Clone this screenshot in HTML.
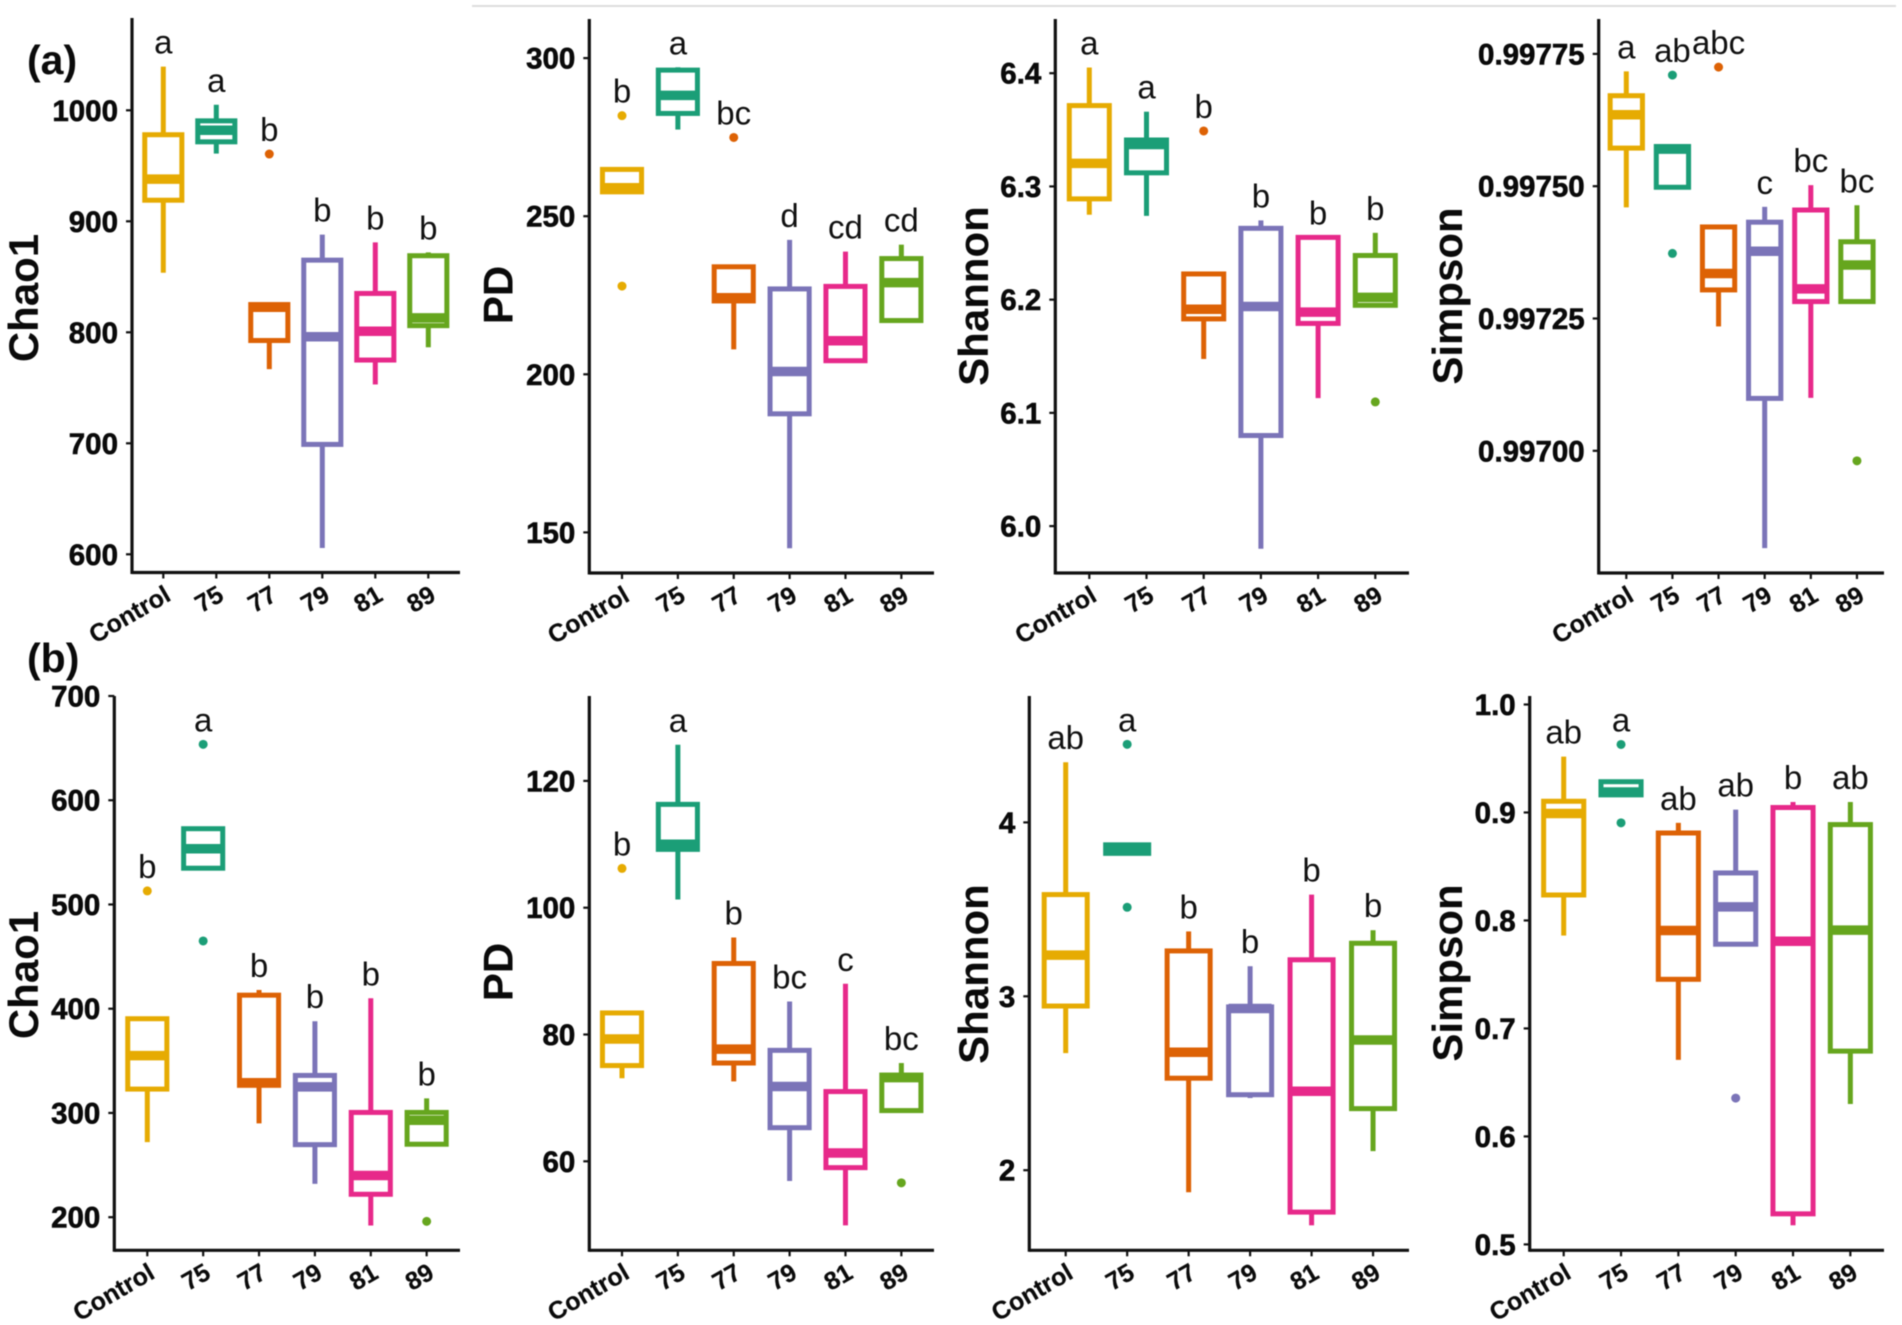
<!DOCTYPE html>
<html lang="en">
<head>
<meta charset="utf-8">
<title>Alpha diversity boxplots</title>
<style>
html,body{margin:0;padding:0;background:#fff;}
body{width:1902px;height:1325px;overflow:hidden;}
svg{display:block;filter:blur(0.45px);}
text{font-family:"Liberation Sans",sans-serif;fill:#0a0a0a;}
.t{font-weight:700;font-size:29.5px;stroke:#0a0a0a;stroke-width:.6px;}
.x{font-weight:700;font-size:25px;stroke:#222;stroke-width:.25px;}
.ttl{font-weight:700;font-size:42px;}
.ltr{font-size:33px;fill:#111;}
.tag{font-weight:700;font-size:41px;}
</style>
</head>
<body>
<svg id="figure" xmlns="http://www.w3.org/2000/svg" width="1902" height="1325" viewBox="0 0 1902 1325">
  <rect x="0" y="0" width="1902" height="1325" fill="#fff"/>
  <line x1="472" y1="6" x2="1896" y2="6" stroke="#dcdcdc" stroke-width="2"/>
  <text class="tag" x="27" y="74">(a)</text>
  <text class="tag" x="27" y="672">(b)</text>
</svg>
<script>
const categories = ['Control','75','77','79','81','89'];
const seriesColors = ['#E6AB02','#1B9E77','#DD6205','#7B74B8','#E7298A','#66A61E'];

const chao1ATicks = [600,700,800,900,1000];
const chao1ATickLabels = ['600','700','800','900','1000'];
const chao1ALow = [853.6,961,766.8,605.7,753,786.5];
const chao1AQ1 = [919,971.6,792.6,699,775,806];
const chao1AMedian = [938,982,822.6,796,801,813];
const chao1AQ3 = [978,990.5,825,865,835,869];
const chao1AHigh = [1039.4,1005,825,888,881,872];
const chao1AOutliers = [[],[],[960.6],[],[],[]];
const chao1ALetters = ['a','a','b','b','b','b'];

const pdATicks = [150,200,250,300];
const pdATickLabels = ['150','200','250','300'];
const pdALow = [257.7,277.4,207.9,145,204.3,217];
const pdAQ1 = [257.7,282.5,223.2,187.5,204.3,217];
const pdAMedian = [259,288.2,224.2,200.9,210.6,229];
const pdAQ3 = [264.8,296.2,234,227,227.8,236.6];
const pdAHigh = [264.8,297.1,234,242.5,238.8,241];
const pdAOutliers = [[281.8,227.9],[],[274.9],[],[],[]];
const pdALetters = ['b','a','bc','d','cd','cd'];

const shannonATicks = [6.0,6.1,6.2,6.3,6.4];
const shannonATickLabels = ['6.0','6.1','6.2','6.3','6.4'];
const shannonALow = [6.275,6.274,6.1476,5.98,6.113,6.195];
const shannonAQ1 = [6.289,6.312,6.183,6.08,6.179,6.195];
const shannonAMedian = [6.3204,6.337,6.1915,6.194,6.189,6.202];
const shannonAQ3 = [6.3714,6.341,6.2227,6.263,6.255,6.239];
const shannonAHigh = [6.405,6.366,6.2227,6.27,6.255,6.259];
const shannonAOutliers = [[],[],[6.349],[],[],[6.1097]];
const shannonALetters = ['a','a','b','b','b','b'];

const simpsonATicks = [0.997,0.99725,0.9975,0.99775];
const simpsonATickLabels = ['0.99700','0.99725','0.99750','0.99775'];
const simpsonALow = [0.99746,0.997498,0.997235,0.996816,0.9971,0.997282];
const simpsonAQ1 = [0.997572,0.997498,0.997304,0.997099,0.997282,0.997282];
const simpsonAMedian = [0.997635,0.99757,0.997335,0.997377,0.997306,0.997351];
const simpsonAQ3 = [0.997671,0.997575,0.997423,0.997432,0.997455,0.997395];
const simpsonAHigh = [0.997717,0.997575,0.997423,0.997461,0.997502,0.997464];
const simpsonAOutliers = [[],[0.99771,0.997373],[0.997725],[],[],[0.996981]];
const simpsonALetters = ['a','ab','abc','c','bc','bc'];

const chao1BTicks = [200,300,400,500,600,700];
const chao1BTickLabels = ['200','300','400','500','600','700'];
const chao1BLow = [272,534.8,290,232,192,270];
const chao1BQ1 = [322.9,534.8,326.5,269.6,222,270];
const chao1BMedian = [355,553.5,329,325,240,293];
const chao1BQ3 = [390.4,572.7,413,336,300.5,300.5];
const chao1BHigh = [390.4,572.7,418,388,410,314];
const chao1BOutliers = [[513],[653.6,465],[],[],[],[196]];
const chao1BLetters = ['b','a','b','b','b','b'];

const pdBTicks = [60,80,100,120];
const pdBTickLabels = ['60','80','100','120'];
const pdBLow = [73.1,101.3,72.6,56.9,49.9,68];
const pdBQ1 = [75.1,109.2,75.5,65.3,59,68];
const pdBMedian = [79.3,110,77.7,71.8,61.3,73.2];
const pdBQ3 = [83.4,116.3,91.2,77.5,71,73.6];
const pdBHigh = [83.4,125.7,95.3,85.2,88,75.5];
const pdBOutliers = [[106.2],[],[],[],[],[56.6]];
const pdBLetters = ['b','a','b','bc','c','bc'];

const shannonBTicks = [2,3,4];
const shannonBTickLabels = ['2','3','4'];
const shannonBLow = [2.673,3.822,1.873,2.415,1.683,2.11];
const shannonBQ1 = [2.944,3.822,2.529,2.434,1.759,2.354];
const shannonBMedian = [3.237,3.846,2.678,2.93,2.454,2.749];
const shannonBQ3 = [3.585,3.871,3.261,2.939,3.21,3.305];
const shannonBHigh = [4.346,3.871,3.373,3.173,3.585,3.38];
const shannonBOutliers = [[],[4.449,3.512],[],[],[],[]];
const shannonBLetters = ['ab','a','b','b','b','b'];

const simpsonBTicks = [0.5,0.6,0.7,0.8,0.9,1.0];
const simpsonBTickLabels = ['0.5','0.6','0.7','0.8','0.9','1.0'];
const simpsonBLow = [0.786,0.9163,0.6709,0.778,0.5177,0.63];
const simpsonBQ1 = [0.8236,0.9163,0.7455,0.778,0.5283,0.679];
const simpsonBMedian = [0.899,0.919,0.7907,0.8126,0.7808,0.791];
const simpsonBQ3 = [0.9104,0.9285,0.881,0.844,0.9046,0.8888];
const simpsonBHigh = [0.9517,0.9285,0.8904,0.9026,0.9097,0.9097];
const simpsonBOutliers = [[],[0.963,0.8904],[],[0.6355],[],[]];
const simpsonBLetters = ['ab','a','ab','ab','b','ab'];

const SVG_NS = 'http://www.w3.org/2000/svg';
const figure = document.getElementById('figure');

function make(parent, tag, attrs, content) {
  const node = document.createElementNS(SVG_NS, tag);
  for (const key in attrs) node.setAttribute(key, attrs[key]);
  if (content !== undefined) node.textContent = content;
  parent.appendChild(node);
  return node;
}

function makeYScale(v0, p0, v1, p1) {
  return function (v) { return p0 + (v - v0) * (p1 - p0) / (v1 - v0); };
}

function makeXScale(first, step) {
  return function (i) { return first + i * step; };
}

function drawPanel(p) {
  const y = makeYScale(p.refLow, p.refLowPx, p.refHigh, p.refHighPx);
  const x = makeXScale(p.firstX, p.stepX);
  const boxW = p.stepX * 0.7;

  const g = make(figure, 'g', {});
  
  

  const title = make(g, 'text', {class:'ttl', 'text-anchor':'middle', transform:'translate(' + p.titleX + ',' + p.titleY + ') rotate(-90)'}, p.title);
  
  

  p.ticks.forEach(function (tick, i) {
    const mark = make(g, 'line', {x1:p.left - 6, x2:p.left, y1:y(tick), y2:y(tick), stroke:'#111', 'stroke-width':2.2});
    
    
    const label = make(g, 'text', {class:'t', x:p.left - 14, y:y(tick) + 10.5, 'text-anchor':'end'}, p.tickLabels[i]);
    
    
  });

  categories.forEach(function (cat, i) {
    const cx = x(i);
    const mark = make(g, 'line', {x1:cx, x2:cx, y1:p.bottom, y2:p.bottom + 6, stroke:'#111', 'stroke-width':2.2});
    
    
    const label = make(g, 'text', {class:'x', 'text-anchor':'end', transform:'translate(' + (cx + 9) + ',' + (p.bottom + 27) + ') rotate(-30)'}, cat);
    
    

    const color = seriesColors[i];
    const series = make(g, 'g', {});
    
    

    if (p.high[i] > p.q3[i]) {
      const upper = make(series, 'line', {x1:cx, x2:cx, y1:y(p.high[i]), y2:y(p.q3[i]), stroke:color, 'stroke-width':5});
      
      
    }
    if (p.low[i] < p.q1[i]) {
      const lower = make(series, 'line', {x1:cx, x2:cx, y1:y(p.q1[i]), y2:y(p.low[i]), stroke:color, 'stroke-width':5});
      
      
    }

    const box = make(series, 'rect', {x:cx - boxW / 2, y:y(p.q3[i]), width:boxW, height:Math.max(0, y(p.q1[i]) - y(p.q3[i])), fill:'#fff', stroke:color, 'stroke-width':5});
    
    

    const median = make(series, 'line', {x1:cx - boxW / 2, x2:cx + boxW / 2, y1:y(p.median[i]), y2:y(p.median[i]), stroke:color, 'stroke-width':9.5});
    
    

    p.outliers[i].forEach(function (value) {
      const dot = make(series, 'circle', {cx:cx, cy:y(value), r:4.5, fill:color});
      
      
    });

    const peak = Math.max.apply(null, [p.high[i], p.q3[i]].concat(p.outliers[i]));
    const letter = make(series, 'text', {class:'ltr', x:cx, y:y(peak) - 13, 'text-anchor':'middle'}, p.letters[i]);
    
    
  });

  const yAxis = make(g, 'line', {x1:p.left, x2:p.left, y1:p.top, y2:p.bottom + 1.5, stroke:'#111', 'stroke-width':3.2});
  
  
  const xAxis = make(g, 'line', {x1:p.left, x2:p.right, y1:p.bottom, y2:p.bottom, stroke:'#111', 'stroke-width':3.2});
  
  
}

drawPanel({name:'chao1-a', title:'Chao1', left:132, right:460, top:18, bottom:572.5, firstX:163.3, stepX:53, titleX:38, titleY:298,
  refLow:600, refLowPx:554.3, refHigh:1000, refHighPx:110.3,
  ticks:chao1ATicks, tickLabels:chao1ATickLabels, low:chao1ALow, q1:chao1AQ1, median:chao1AMedian, q3:chao1AQ3, high:chao1AHigh, outliers:chao1AOutliers, letters:chao1ALetters});
drawPanel({name:'pd-a', title:'PD', left:589.3, right:934, top:19, bottom:573, firstX:622, stepX:55.87, titleX:512.7, titleY:295,
  refLow:150, refLowPx:532.4, refHigh:300, refHighPx:58.1,
  ticks:pdATicks, tickLabels:pdATickLabels, low:pdALow, q1:pdAQ1, median:pdAMedian, q3:pdAQ3, high:pdAHigh, outliers:pdAOutliers, letters:pdALetters});
drawPanel({name:'shannon-a', title:'Shannon', left:1055.3, right:1409, top:19, bottom:573, firstX:1089.3, stepX:57.2, titleX:988, titleY:296,
  refLow:6.0, refLowPx:526.1, refHigh:6.4, refHighPx:73.2,
  ticks:shannonATicks, tickLabels:shannonATickLabels, low:shannonALow, q1:shannonAQ1, median:shannonAMedian, q3:shannonAQ3, high:shannonAHigh, outliers:shannonAOutliers, letters:shannonALetters});
drawPanel({name:'simpson-a', title:'Simpson', left:1598.7, right:1884, top:19, bottom:573, firstX:1626.3, stepX:46.13, titleX:1462, titleY:296,
  refLow:0.997, refLowPx:450.8, refHigh:0.99775, refHighPx:53.9,
  ticks:simpsonATicks, tickLabels:simpsonATickLabels, low:simpsonALow, q1:simpsonAQ1, median:simpsonAMedian, q3:simpsonAQ3, high:simpsonAHigh, outliers:simpsonAOutliers, letters:simpsonALetters});
drawPanel({name:'chao1-b', title:'Chao1', left:114.3, right:460, top:696, bottom:1250.3, firstX:147.3, stepX:55.87, titleX:38, titleY:975,
  refLow:200, refLowPx:1217.2, refHigh:700, refHighPx:696,
  ticks:chao1BTicks, tickLabels:chao1BTickLabels, low:chao1BLow, q1:chao1BQ1, median:chao1BMedian, q3:chao1BQ3, high:chao1BHigh, outliers:chao1BOutliers, letters:chao1BLetters});
drawPanel({name:'pd-b', title:'PD', left:589.3, right:934, top:696, bottom:1250.3, firstX:622, stepX:55.87, titleX:512.7, titleY:972,
  refLow:60, refLowPx:1161.3, refHigh:120, refHighPx:780.9,
  ticks:pdBTicks, tickLabels:pdBTickLabels, low:pdBLow, q1:pdBQ1, median:pdBMedian, q3:pdBQ3, high:pdBHigh, outliers:pdBOutliers, letters:pdBLetters});
drawPanel({name:'shannon-b', title:'Shannon', left:1029.3, right:1409, top:696, bottom:1250.3, firstX:1065.7, stepX:61.47, titleX:988, titleY:974,
  refLow:2, refLowPx:1170.2, refHigh:4, refHighPx:822.4,
  ticks:shannonBTicks, tickLabels:shannonBTickLabels, low:shannonBLow, q1:shannonBQ1, median:shannonBMedian, q3:shannonBQ3, high:shannonBHigh, outliers:shannonBOutliers, letters:shannonBLetters});
drawPanel({name:'simpson-b', title:'Simpson', left:1529.7, right:1884, top:696, bottom:1250.3, firstX:1563.7, stepX:57.33, titleX:1462, titleY:973,
  refLow:0.5, refLowPx:1244.4, refHigh:1.0, refHighPx:704.5,
  ticks:simpsonBTicks, tickLabels:simpsonBTickLabels, low:simpsonBLow, q1:simpsonBQ1, median:simpsonBMedian, q3:simpsonBQ3, high:simpsonBHigh, outliers:simpsonBOutliers, letters:simpsonBLetters});
</script>
</body>
</html>
